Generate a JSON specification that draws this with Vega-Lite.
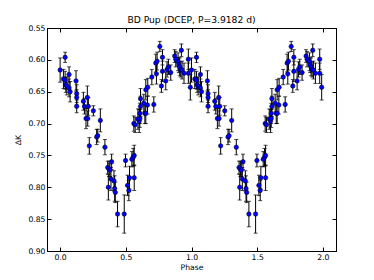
{
 "$schema": "https://vega.github.io/schema/vega-lite/v6.json",
 "width": 289, "height": 223,
 "autosize": {"type": "none"},
 "padding": {"left": 47, "top": 28, "right": 38, "bottom": 29},
 "background": "white",
 "title": {"text": "BD Pup (DCEP, P=3.9182 d)", "fontSize": 9.2, "font": "DejaVu Sans", "fontWeight": "normal", "offset": -1, "color": "black"},
 "config": {
  "view": {"stroke": "black", "strokeWidth": 1},
  "axis": {"labelFont": "DejaVu Sans", "labelFontSize": 7.7, "labelColor": "black", "titleFont": "DejaVu Sans", "titleFontSize": 7.7, "titleFontWeight": "normal", "titleColor": "black", "tickColor": "black", "domainColor": "black", "tickSize": -4, "grid": false, "labelPadding": 6, "domain": true}
 },
 "data": {"values": [
  {"phase": 0.000, "dk": 0.616, "err": 0.019},
  {"phase": 0.038, "dk": 0.596, "err": 0.008},
  {"phase": 0.025, "dk": 0.630, "err": 0.015},
  {"phase": 0.038, "dk": 0.632, "err": 0.014},
  {"phase": 0.043, "dk": 0.639, "err": 0.012},
  {"phase": 0.051, "dk": 0.641, "err": 0.014},
  {"phase": 0.068, "dk": 0.623, "err": 0.012},
  {"phase": 0.068, "dk": 0.644, "err": 0.014},
  {"phase": 0.076, "dk": 0.650, "err": 0.016},
  {"phase": 0.121, "dk": 0.633, "err": 0.016},
  {"phase": 0.126, "dk": 0.653, "err": 0.014},
  {"phase": 0.126, "dk": 0.659, "err": 0.012},
  {"phase": 0.126, "dk": 0.673, "err": 0.010},
  {"phase": 0.177, "dk": 0.665, "err": 0.014},
  {"phase": 0.185, "dk": 0.673, "err": 0.012},
  {"phase": 0.197, "dk": 0.692, "err": 0.016},
  {"phase": 0.210, "dk": 0.692, "err": 0.012},
  {"phase": 0.207, "dk": 0.659, "err": 0.018},
  {"phase": 0.215, "dk": 0.673, "err": 0.014},
  {"phase": 0.253, "dk": 0.680, "err": 0.008},
  {"phase": 0.306, "dk": 0.695, "err": 0.018},
  {"phase": 0.278, "dk": 0.721, "err": 0.012},
  {"phase": 0.286, "dk": 0.719, "err": 0.010},
  {"phase": 0.222, "dk": 0.735, "err": 0.013},
  {"phase": 0.341, "dk": 0.737, "err": 0.012},
  {"phase": 0.362, "dk": 0.769, "err": 0.010},
  {"phase": 0.372, "dk": 0.771, "err": 0.012},
  {"phase": 0.379, "dk": 0.773, "err": 0.010},
  {"phase": 0.367, "dk": 0.800, "err": 0.020},
  {"phase": 0.387, "dk": 0.787, "err": 0.018},
  {"phase": 0.392, "dk": 0.760, "err": 0.012},
  {"phase": 0.410, "dk": 0.790, "err": 0.016},
  {"phase": 0.415, "dk": 0.802, "err": 0.020},
  {"phase": 0.420, "dk": 0.808, "err": 0.016},
  {"phase": 0.437, "dk": 0.842, "err": 0.020},
  {"phase": 0.488, "dk": 0.842, "err": 0.030},
  {"phase": 0.498, "dk": 0.758, "err": 0.010},
  {"phase": 0.513, "dk": 0.797, "err": 0.016},
  {"phase": 0.523, "dk": 0.805, "err": 0.016},
  {"phase": 0.528, "dk": 0.785, "err": 0.018},
  {"phase": 0.546, "dk": 0.756, "err": 0.012},
  {"phase": 0.556, "dk": 0.753, "err": 0.014},
  {"phase": 0.564, "dk": 0.750, "err": 0.016},
  {"phase": 0.564, "dk": 0.785, "err": 0.020},
  {"phase": 0.561, "dk": 0.700, "err": 0.012},
  {"phase": 0.571, "dk": 0.702, "err": 0.012},
  {"phase": 0.592, "dk": 0.693, "err": 0.016},
  {"phase": 0.602, "dk": 0.696, "err": 0.018},
  {"phase": 0.607, "dk": 0.684, "err": 0.016},
  {"phase": 0.612, "dk": 0.661, "err": 0.016},
  {"phase": 0.612, "dk": 0.673, "err": 0.016},
  {"phase": 0.607, "dk": 0.692, "err": 0.014},
  {"phase": 0.637, "dk": 0.668, "err": 0.014},
  {"phase": 0.645, "dk": 0.684, "err": 0.016},
  {"phase": 0.652, "dk": 0.684, "err": 0.016},
  {"phase": 0.652, "dk": 0.647, "err": 0.016},
  {"phase": 0.667, "dk": 0.643, "err": 0.014},
  {"phase": 0.665, "dk": 0.671, "err": 0.014},
  {"phase": 0.698, "dk": 0.627, "err": 0.012},
  {"phase": 0.713, "dk": 0.670, "err": 0.012},
  {"phase": 0.728, "dk": 0.605, "err": 0.014},
  {"phase": 0.733, "dk": 0.622, "err": 0.016},
  {"phase": 0.738, "dk": 0.602, "err": 0.014},
  {"phase": 0.759, "dk": 0.579, "err": 0.008},
  {"phase": 0.771, "dk": 0.641, "err": 0.010},
  {"phase": 0.779, "dk": 0.596, "err": 0.012},
  {"phase": 0.779, "dk": 0.618, "err": 0.016},
  {"phase": 0.804, "dk": 0.633, "err": 0.014},
  {"phase": 0.814, "dk": 0.615, "err": 0.012},
  {"phase": 0.824, "dk": 0.611, "err": 0.012},
  {"phase": 0.842, "dk": 0.620, "err": 0.012},
  {"phase": 0.872, "dk": 0.594, "err": 0.010},
  {"phase": 0.880, "dk": 0.599, "err": 0.012},
  {"phase": 0.898, "dk": 0.603, "err": 0.014},
  {"phase": 0.903, "dk": 0.608, "err": 0.012},
  {"phase": 0.910, "dk": 0.611, "err": 0.014},
  {"phase": 0.918, "dk": 0.615, "err": 0.012},
  {"phase": 0.923, "dk": 0.585, "err": 0.010},
  {"phase": 0.928, "dk": 0.616, "err": 0.014},
  {"phase": 0.943, "dk": 0.621, "err": 0.016},
  {"phase": 0.976, "dk": 0.599, "err": 0.016},
  {"phase": 0.976, "dk": 0.621, "err": 0.016},
  {"phase": 0.991, "dk": 0.643, "err": 0.020},
  {"phase": 1.000, "dk": 0.616, "err": 0.019},
  {"phase": 1.038, "dk": 0.596, "err": 0.008},
  {"phase": 1.025, "dk": 0.630, "err": 0.015},
  {"phase": 1.038, "dk": 0.632, "err": 0.014},
  {"phase": 1.043, "dk": 0.639, "err": 0.012},
  {"phase": 1.051, "dk": 0.641, "err": 0.014},
  {"phase": 1.068, "dk": 0.623, "err": 0.012},
  {"phase": 1.068, "dk": 0.644, "err": 0.014},
  {"phase": 1.076, "dk": 0.650, "err": 0.016},
  {"phase": 1.121, "dk": 0.633, "err": 0.016},
  {"phase": 1.126, "dk": 0.653, "err": 0.014},
  {"phase": 1.126, "dk": 0.659, "err": 0.012},
  {"phase": 1.126, "dk": 0.673, "err": 0.010},
  {"phase": 1.177, "dk": 0.665, "err": 0.014},
  {"phase": 1.185, "dk": 0.673, "err": 0.012},
  {"phase": 1.197, "dk": 0.692, "err": 0.016},
  {"phase": 1.210, "dk": 0.692, "err": 0.012},
  {"phase": 1.207, "dk": 0.659, "err": 0.018},
  {"phase": 1.215, "dk": 0.673, "err": 0.014},
  {"phase": 1.253, "dk": 0.680, "err": 0.008},
  {"phase": 1.306, "dk": 0.695, "err": 0.018},
  {"phase": 1.278, "dk": 0.721, "err": 0.012},
  {"phase": 1.286, "dk": 0.719, "err": 0.010},
  {"phase": 1.222, "dk": 0.735, "err": 0.013},
  {"phase": 1.341, "dk": 0.737, "err": 0.012},
  {"phase": 1.362, "dk": 0.769, "err": 0.010},
  {"phase": 1.372, "dk": 0.771, "err": 0.012},
  {"phase": 1.379, "dk": 0.773, "err": 0.010},
  {"phase": 1.367, "dk": 0.800, "err": 0.020},
  {"phase": 1.387, "dk": 0.787, "err": 0.018},
  {"phase": 1.392, "dk": 0.760, "err": 0.012},
  {"phase": 1.410, "dk": 0.790, "err": 0.016},
  {"phase": 1.415, "dk": 0.802, "err": 0.020},
  {"phase": 1.420, "dk": 0.808, "err": 0.016},
  {"phase": 1.437, "dk": 0.842, "err": 0.020},
  {"phase": 1.488, "dk": 0.842, "err": 0.030},
  {"phase": 1.498, "dk": 0.758, "err": 0.010},
  {"phase": 1.513, "dk": 0.797, "err": 0.016},
  {"phase": 1.523, "dk": 0.805, "err": 0.016},
  {"phase": 1.528, "dk": 0.785, "err": 0.018},
  {"phase": 1.546, "dk": 0.756, "err": 0.012},
  {"phase": 1.556, "dk": 0.753, "err": 0.014},
  {"phase": 1.564, "dk": 0.750, "err": 0.016},
  {"phase": 1.564, "dk": 0.785, "err": 0.020},
  {"phase": 1.561, "dk": 0.700, "err": 0.012},
  {"phase": 1.571, "dk": 0.702, "err": 0.012},
  {"phase": 1.592, "dk": 0.693, "err": 0.016},
  {"phase": 1.602, "dk": 0.696, "err": 0.018},
  {"phase": 1.607, "dk": 0.684, "err": 0.016},
  {"phase": 1.612, "dk": 0.661, "err": 0.016},
  {"phase": 1.612, "dk": 0.673, "err": 0.016},
  {"phase": 1.607, "dk": 0.692, "err": 0.014},
  {"phase": 1.637, "dk": 0.668, "err": 0.014},
  {"phase": 1.645, "dk": 0.684, "err": 0.016},
  {"phase": 1.652, "dk": 0.684, "err": 0.016},
  {"phase": 1.652, "dk": 0.647, "err": 0.016},
  {"phase": 1.667, "dk": 0.643, "err": 0.014},
  {"phase": 1.665, "dk": 0.671, "err": 0.014},
  {"phase": 1.698, "dk": 0.627, "err": 0.012},
  {"phase": 1.713, "dk": 0.670, "err": 0.012},
  {"phase": 1.728, "dk": 0.605, "err": 0.014},
  {"phase": 1.733, "dk": 0.622, "err": 0.016},
  {"phase": 1.738, "dk": 0.602, "err": 0.014},
  {"phase": 1.759, "dk": 0.579, "err": 0.008},
  {"phase": 1.771, "dk": 0.641, "err": 0.010},
  {"phase": 1.779, "dk": 0.596, "err": 0.012},
  {"phase": 1.779, "dk": 0.618, "err": 0.016},
  {"phase": 1.804, "dk": 0.633, "err": 0.014},
  {"phase": 1.814, "dk": 0.615, "err": 0.012},
  {"phase": 1.824, "dk": 0.611, "err": 0.012},
  {"phase": 1.842, "dk": 0.620, "err": 0.012},
  {"phase": 1.872, "dk": 0.594, "err": 0.010},
  {"phase": 1.880, "dk": 0.599, "err": 0.012},
  {"phase": 1.898, "dk": 0.603, "err": 0.014},
  {"phase": 1.903, "dk": 0.608, "err": 0.012},
  {"phase": 1.910, "dk": 0.611, "err": 0.014},
  {"phase": 1.918, "dk": 0.615, "err": 0.012},
  {"phase": 1.923, "dk": 0.585, "err": 0.010},
  {"phase": 1.928, "dk": 0.616, "err": 0.014},
  {"phase": 1.943, "dk": 0.621, "err": 0.016},
  {"phase": 1.976, "dk": 0.599, "err": 0.016},
  {"phase": 1.976, "dk": 0.621, "err": 0.016},
  {"phase": 1.991, "dk": 0.643, "err": 0.020}
 ]},
 "layer": [
  {
   "mark": {"type": "errorbar", "color": "black", "thickness": 1, "ticks": {"size": 4, "thickness": 1, "color": "black"}},
   "encoding": {
    "x": {"field": "phase", "type": "quantitative", "scale": {"domain": [-0.1, 2.1], "nice": false, "zero": false},
          "axis": {"orient": "bottom", "title": "Phase", "values": [0, 0.5, 1, 1.5, 2], "format": ".1f", "titlePadding": 3}},
    "y": {"field": "dk", "type": "quantitative", "scale": {"domain": [0.55, 0.9], "reverse": true, "nice": false, "zero": false},
          "axis": {"orient": "left", "title": "ΔK", "values": [0.55, 0.6, 0.65, 0.7, 0.75, 0.8, 0.85, 0.9], "format": ".2f", "titlePadding": 5}},
    "yError": {"field": "err"}
   }
  },
  {
   "mark": {"type": "point", "filled": true, "color": "#0000ff", "size": 20, "stroke": "black", "strokeWidth": 0.5, "opacity": 1},
   "encoding": {
    "x": {"field": "phase", "type": "quantitative", "axis": {"orient": "top", "title": null, "labels": false, "values": [0, 0.5, 1, 1.5, 2]}},
    "y": {"field": "dk", "type": "quantitative", "axis": {"orient": "right", "title": null, "labels": false, "values": [0.55, 0.6, 0.65, 0.7, 0.75, 0.8, 0.85, 0.9]}}
   }
  }
 ]
}
